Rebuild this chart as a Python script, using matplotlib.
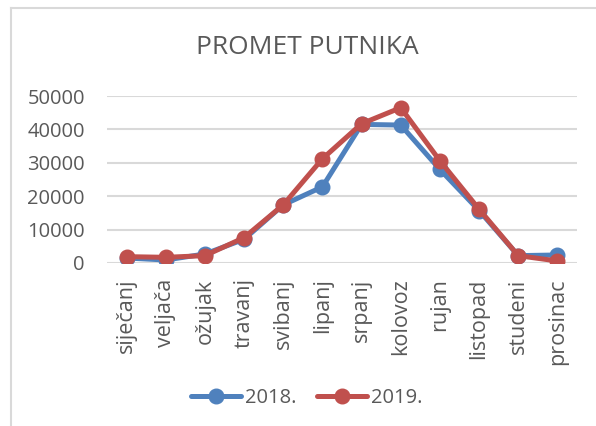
import matplotlib.pyplot as plt
from matplotlib.lines import Line2D

months = ["siječanj", "veljača", "ožujak", "travanj", "svibanj", "lipanj",
          "srpanj", "kolovoz", "rujan", "listopad", "studeni", "prosinac"]
putnici_2018 = [1500, 900, 2700, 7100, 17400, 22800, 41500, 41300, 28000, 15700, 2200, 2400]
putnici_2019 = [1900, 1700, 2200, 7600, 17400, 31200, 41700, 46500, 30600, 16100, 2200, 600]

text_color = "#595959"
grid_color = "#D9D9D9"
plt.rcParams["font.family"] = ["Open Sans", "DejaVu Sans"]

fig = plt.figure(figsize=(5.96, 4.26), dpi=100)
ax = fig.add_axes([107 / 596, 1 - 263 / 426, 470 / 596, 167 / 426])

x = range(len(months))
ax.plot(x, putnici_2018, color="#4F81BD", lw=3.6, marker="o", ms=10.5,
        solid_capstyle="round", label="2018.", zorder=3)
ax.plot(x, putnici_2019, color="#C0504D", lw=3.6, marker="o", ms=10.5,
        solid_capstyle="round", label="2019.", zorder=4)

ax.set_xlim(-0.5, len(months) - 0.5)
ax.set_ylim(0, 50000)
ax.set_yticks(range(0, 50001, 10000))
ax.set_xticks(list(x))
ax.set_xticklabels(months, rotation=90, fontsize=15.5, color=text_color)
ax.tick_params(axis="y", labelsize=14.5, labelcolor=text_color, length=0, pad=16)
ax.tick_params(axis="x", length=0, pad=11)
ax.grid(axis="y", color=grid_color, lw=1.5)
ax.set_axisbelow(True)
for s in ax.spines.values():
    s.set_visible(False)

fig.text(307 / 596, 1 - 47 / 426, "PROMET PUTNIKA", ha="center", va="center",
         fontsize=19, color=text_color)

# chart border (top and left visible)
fig.add_artist(Line2D([11 / 596, 11 / 596], [0, 1 - 8 / 426], color=grid_color,
                      lw=1.5, transform=fig.transFigure))
fig.add_artist(Line2D([11 / 596, 1], [1 - 8 / 426, 1 - 8 / 426], color=grid_color,
                      lw=1.5, transform=fig.transFigure))

fig.legend(loc="center", bbox_to_anchor=(307 / 596, 1 - 398 / 426), ncol=2,
           frameon=False, fontsize=14.5, labelcolor=text_color,
           handlelength=2.5, handletextpad=0.2, columnspacing=1.0)

plt.savefig("out.png", dpi=100)
